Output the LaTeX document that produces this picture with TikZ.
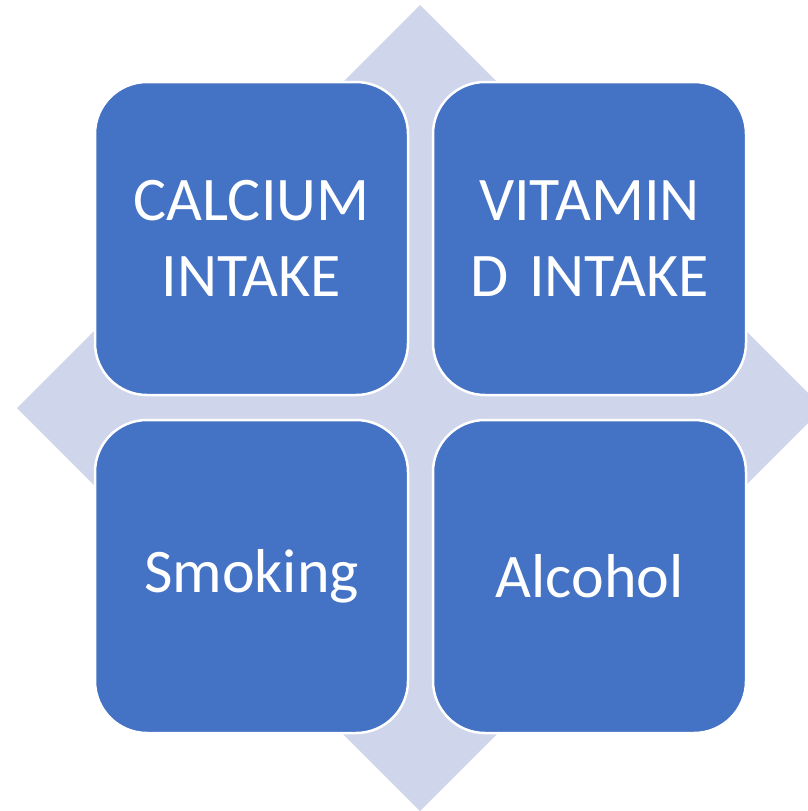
\documentclass[tikz,border=0pt]{standalone}
\usepackage{fontspec}
\setmainfont{Carlito}
\definecolor{boxblue}{HTML}{4472C4}
\definecolor{diamondgray}{HTML}{CFD5EA}
\begin{document}
\begin{tikzpicture}[x=1pt,y=-1pt,
    factor/.style={draw=white,line width=2.5pt,fill=boxblue,rounded corners=52pt,
      minimum width=313pt,minimum height=313pt,inner sep=0pt,text width=300pt,
      align=center,text=white,font=\fontsize{62}{76}\selectfont}]
  \useasboundingbox (0,0) rectangle (808,811);
  \clip (0,0) rectangle (808,811);
  % background diamond
  \fill[diamondgray] (420,5) -- (17,408) -- (420,811) -- (823,408) -- cycle;
  \draw
    (251.5,238.5) node[factor] (calcium){CALCIUM\\INTAKE}
    (589.5,238.5) node[factor] (vitamin){VITAMIN\\D INTAKE}
    (251.5,576.5) node[factor] (smoking){Smoking}
    (589.5,576.5) node[factor] (alcohol){Alcohol};
\end{tikzpicture}
\end{document}
